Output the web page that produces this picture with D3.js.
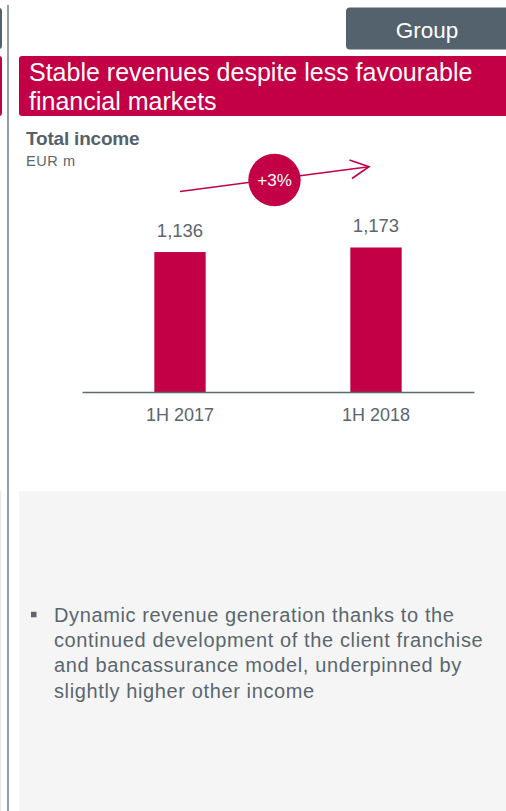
<!DOCTYPE html>
<html>
<head>
<meta charset="utf-8">
<script src="https://cdn.jsdelivr.net/npm/d3@7"></script>
<style>
  html, body { margin: 0; padding: 0; background: #ffffff; }
  svg { display: block; font-family: "Liberation Sans", Arial, Helvetica, sans-serif; }
</style>
</head>
<body>
<svg id="chart" width="506" height="811"></svg>
<script>
// ---- data ----
const categories = ["1H 2017", "1H 2018"];
const totalIncome = [1136, 1173];
const valueLabels = ["1,136", "1,173"];
const growthLabel = "+3%";
const tabLabel = "Group";
const titleLines = ["Stable revenues despite less favourable", "financial markets"];
const chartTitle = "Total income";
const unitLabel = "EUR m";
const bulletLines = [
  "Dynamic revenue generation thanks to the",
  "continued development of the client franchise",
  "and bancassurance model, underpinned by",
  "slightly higher other income"
];

// ---- styles ----
const RED = "#c30046";
const SLATE = "#53626d";
const TEXT = "#5a6670";

const svg = d3.select("#chart");

// left edge decorations
svg.append("rect").attr("x", -6).attr("y", 8).attr("width", 8).attr("height", 41).attr("rx", 3).attr("fill", SLATE);
svg.append("rect").attr("x", -6).attr("y", 56).attr("width", 8).attr("height", 60).attr("rx", 3).attr("fill", RED);
svg.append("rect").attr("x", 0).attr("y", 491).attr("width", 1).attr("height", 320).attr("fill", "#e6e6e6");
svg.append("line").attr("x1", 8).attr("x2", 8).attr("y1", 5).attr("y2", 811)
  .attr("stroke", "#5f6a73").attr("stroke-width", 1.3);

// Group tab
svg.append("rect").attr("x", 346).attr("y", 7.5).attr("width", 170).attr("height", 42).attr("rx", 4).attr("fill", SLATE);
svg.append("text").attr("x", 427).attr("y", 37.5).attr("text-anchor", "middle")
  .attr("fill", "#ffffff").style("font-size", "22.5px").text(tabLabel);

// Title band
svg.append("rect").attr("x", 19).attr("y", 56).attr("width", 500).attr("height", 60).attr("rx", 3).attr("fill", RED);
svg.append("g").selectAll("text").data(titleLines).join("text")
  .attr("x", 29).attr("y", (d, i) => 81 + i * 29)
  .attr("fill", "#ffffff").style("font-size", "25px").text(d => d);

// Chart title
svg.append("text").attr("x", 26).attr("y", 144.5).attr("fill", "#55616b")
  .style("font-size", "19px").style("font-weight", "bold").style("letter-spacing", "-0.2px").text(chartTitle);
svg.append("text").attr("x", 26).attr("y", 165.8).attr("fill", TEXT)
  .style("font-size", "14.5px").style("letter-spacing", "0.6px").text(unitLabel);

// scales
const x = d3.scaleBand().domain(categories).range([82, 474]).paddingInner(0).paddingOuter(0);
const y = d3.scaleLinear().domain([0, 1400]).range([392, 392 - 1400 * 0.1232]);
const barW = x.bandwidth() * 0.262;

// bars
svg.append("g").selectAll("rect").data(totalIncome).join("rect")
  .attr("x", (d, i) => x(categories[i]) + x.bandwidth() / 2 - barW / 2)
  .attr("y", d => y(d))
  .attr("width", barW)
  .attr("height", d => y(0) - y(d))
  .attr("fill", RED);

// value labels
svg.append("g").selectAll("text").data(totalIncome).join("text")
  .attr("x", (d, i) => x(categories[i]) + x.bandwidth() / 2)
  .attr("y", d => y(d) - 15)
  .attr("text-anchor", "middle")
  .attr("fill", TEXT).style("font-size", "18.5px")
  .text((d, i) => valueLabels[i]);

// x axis
const xAxis = d3.axisBottom(x).tickSize(0).tickPadding(15);
const gx = svg.append("g").attr("transform", `translate(0,${y(0)})`).call(xAxis);
gx.select(".domain").attr("stroke", "#5c6a76").attr("stroke-width", 1.6);
gx.selectAll(".tick text").attr("fill", TEXT).style("font-size", "18px")
  .style("font-family", "\"Liberation Sans\", Arial, sans-serif").attr("dy", "0.8em");

// growth arrow
const ax1 = x(categories[0]) + x.bandwidth() / 2, ay1 = 191.5;
const ax2 = 369, ay2 = 166.7;
svg.append("line").attr("x1", ax1).attr("y1", ay1).attr("x2", ax2).attr("y2", ay2)
  .attr("stroke", RED).attr("stroke-width", 1.6);
svg.append("path").attr("d", `M349.5,160 L${ax2},${ay2} L352,178.5`)
  .attr("fill", "none").attr("stroke", RED).attr("stroke-width", 1.6);
svg.append("circle").attr("cx", 274.5).attr("cy", 180).attr("r", 26.2).attr("fill", RED);
svg.append("text").attr("x", 274.5).attr("y", 186).attr("text-anchor", "middle")
  .attr("fill", "#ffffff").style("font-size", "17px").text(growthLabel);

// bullet panel
svg.append("rect").attr("x", 19).attr("y", 491).attr("width", 487).attr("height", 320).attr("fill", "#f5f5f5");
svg.append("rect").attr("x", 31).attr("y", 611.8).attr("width", 5.5).attr("height", 5.5).attr("fill", TEXT);
svg.append("g").selectAll("text").data(bulletLines).join("text")
  .attr("x", 54).attr("y", (d, i) => 621.7 + i * 25.3)
  .attr("fill", TEXT).style("font-size", "20px").style("letter-spacing", "0.62px")
  .text(d => d);
</script>
</body>
</html>
